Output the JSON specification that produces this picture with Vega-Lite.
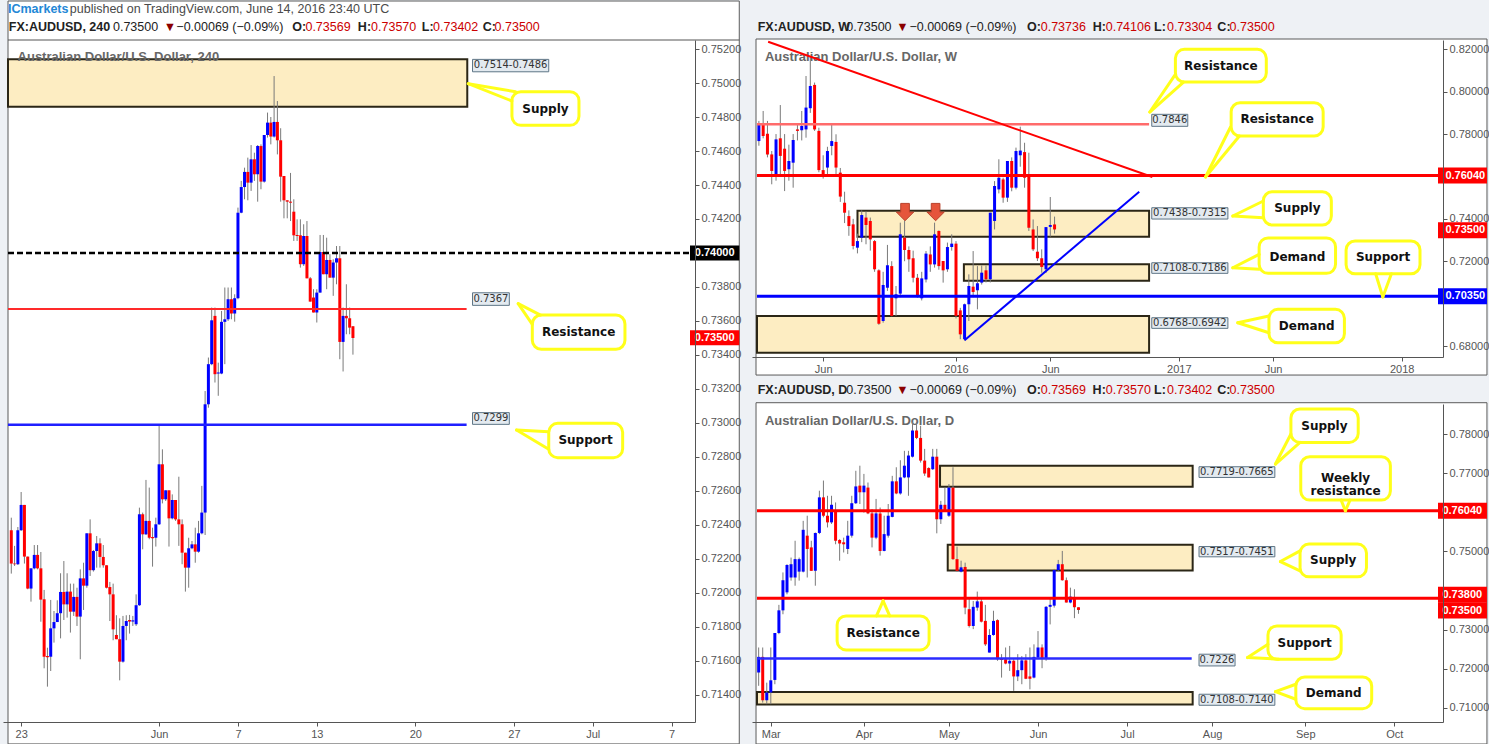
{
"$schema": "https://vega.github.io/schema/vega-lite/v6.json",
"background": "#eef1f5",
"padding": {"left": 3, "top": 0, "right": 0, "bottom": 0},
"spacing": 57,
"bounds": "flush",
"config": {
  "font": "Liberation Sans",
  "view": {"stroke": null},
  "axis": {"grid": false, "labelFont": "Liberation Sans", "labelFontSize": 11, "labelColor": "#555555", "domainColor": "#555555", "tickColor": "#555555", "tickSize": 4, "labelPadding": 2, "labelFlush": false, "labelOverlap": false, "labelBound": false}
},
"datasets": {
  "lblL": [
    {"x1":138.4,"x2":161.6,"y1":0.75066,"y2":0.75139,"tx":150.0,"ty":0.75103,"t":"0.7514-0.7486"},
    {"x1":138.4,"x2":149.6,"y1":0.73692,"y2":0.73766,"tx":144.0,"ty":0.73729,"t":"0.7367"},
    {"x1":138.4,"x2":149.6,"y1":0.72992,"y2":0.73061,"tx":144.0,"ty":0.73027,"t":"0.7299"}
  ],
  "coL": [
    {"x1":150.4,"x2":170.8,"y1":0.74751,"y2":0.74949,"tx":160.6,"ty":0.7485,"t":"Supply"},
    {"x1":156.6,"x2":184.8,"y1":0.73434,"y2":0.73635,"tx":170.7,"ty":0.73535,"t":"Resistance"},
    {"x1":161.6,"x2":184.1,"y1":0.72796,"y2":0.72998,"tx":172.8,"ty":0.72897,"t":"Support"}
  ],
  "lblW": [
    {"x1":45.68,"x2":54.09,"y1":0.78366,"y2":0.78932,"tx":49.89,"ty":0.78649,"t":"0.7846"},
    {"x1":45.68,"x2":63.45,"y1":0.73991,"y2":0.74525,"tx":54.57,"ty":0.74258,"t":"0.7438-0.7315"},
    {"x1":45.68,"x2":63.45,"y1":0.71429,"y2":0.71929,"tx":54.57,"ty":0.71679,"t":"0.7108-0.7186"},
    {"x1":45.68,"x2":63.45,"y1":0.68833,"y2":0.69334,"tx":54.57,"ty":0.69084,"t":"0.6768-0.6942"}
  ],
  "coW": [
    {"x1":51.2,"x2":72.41,"y1":0.80457,"y2":0.82,"tx":61.8,"ty":0.81226,"t":"Resistance"},
    {"x1":64.21,"x2":85.68,"y1":0.77908,"y2":0.7948,"tx":74.94,"ty":0.78697,"t":"Resistance"},
    {"x1":71.72,"x2":87.59,"y1":0.73708,"y2":0.7528,"tx":79.66,"ty":0.74496,"t":"Supply"},
    {"x1":70.74,"x2":88.57,"y1":0.71429,"y2":0.731,"tx":79.66,"ty":0.72212,"t":"Demand"},
    {"x1":91.03,"x2":108.28,"y1":0.7141,"y2":0.72953,"tx":99.66,"ty":0.72184,"t":"Support"},
    {"x1":73.03,"x2":90.64,"y1":0.68154,"y2":0.6973,"tx":81.84,"ty":0.68942,"t":"Demand"}
  ],
  "lblD": [
    {"x1":105.77,"x2":124.5,"y1":0.76889,"y2":0.77163,"tx":115.1,"ty":0.77026,"t":"0.7719-0.7665"},
    {"x1":105.77,"x2":124.5,"y1":0.74859,"y2":0.75122,"tx":115.1,"ty":0.7499,"t":"0.7517-0.7451"},
    {"x1":105.77,"x2":114.67,"y1":0.72068,"y2":0.72368,"tx":110.2,"ty":0.72218,"t":"0.7226"},
    {"x1":105.77,"x2":124.5,"y1":0.71062,"y2":0.71344,"tx":115.1,"ty":0.71203,"t":"0.7108-0.7140"}
  ],
  "coD": [
    {"x1":128.47,"x2":145.09,"y1":0.77785,"y2":0.7864,"tx":136.74,"ty":0.78212,"t":"Supply"},
    {"x1":130.9,"x2":153.04,"y1":0.7631,"y2":0.77419,"tx":141.97,"ty":0.76863,"t":"Weekly\nresistance"},
    {"x1":130.73,"x2":147.13,"y1":0.74347,"y2":0.75184,"tx":138.93,"ty":0.74765,"t":"Supply"},
    {"x1":16.38,"x2":39.1,"y1":0.72478,"y2":0.73348,"tx":27.74,"ty":0.72913,"t":"Resistance"},
    {"x1":122.8,"x2":140.88,"y1":0.7224,"y2":0.73092,"tx":131.87,"ty":0.72665,"t":"Support"},
    {"x1":129.68,"x2":148.42,"y1":0.70975,"y2":0.71786,"tx":139.05,"ty":0.71382,"t":"Demand"}
  ],
  "h4": [
{"i":-2,"o":0.72369,"h":0.72443,"l":0.72114,"c":0.72173},
{"i":-1,"o":0.72173,"h":0.72277,"l":0.72159,"c":0.72169},
{"i":0,"o":0.72169,"h":0.72388,"l":0.72165,"c":0.72369},
{"i":1,"o":0.72369,"h":0.72594,"l":0.72365,"c":0.72518},
{"i":2,"o":0.72518,"h":0.72518,"l":0.72173,"c":0.72214},
{"i":3,"o":0.72214,"h":0.72214,"l":0.72022,"c":0.72026},
{"i":4,"o":0.72026,"h":0.72145,"l":0.71949,"c":0.72145},
{"i":5,"o":0.72145,"h":0.72282,"l":0.72139,"c":0.72224},
{"i":6,"o":0.72224,"h":0.72282,"l":0.72139,"c":0.72145},
{"i":7,"o":0.72145,"h":0.72241,"l":0.71831,"c":0.71961},
{"i":8,"o":0.71963,"h":0.72018,"l":0.71557,"c":0.71625},
{"i":9,"o":0.71629,"h":0.71678,"l":0.71449,"c":0.71622},
{"i":10,"o":0.71625,"h":0.71959,"l":0.71541,"c":0.71792},
{"i":11,"o":0.71792,"h":0.71894,"l":0.71708,"c":0.71829},
{"i":12,"o":0.71829,"h":0.71957,"l":0.71829,"c":0.71881},
{"i":13,"o":0.71881,"h":0.72116,"l":0.71733,"c":0.72006},
{"i":14,"o":0.72006,"h":0.72188,"l":0.71841,"c":0.71933},
{"i":15,"o":0.71933,"h":0.72116,"l":0.71855,"c":0.72008},
{"i":16,"o":0.72008,"h":0.72055,"l":0.71767,"c":0.7189},
{"i":17,"o":0.7189,"h":0.72055,"l":0.71865,"c":0.71977},
{"i":18,"o":0.71977,"h":0.72031,"l":0.71806,"c":0.71861},
{"i":19,"o":0.71861,"h":0.72139,"l":0.7161,"c":0.72086},
{"i":20,"o":0.72086,"h":0.72178,"l":0.719,"c":0.72043},
{"i":21,"o":0.72043,"h":0.72351,"l":0.72031,"c":0.72351},
{"i":22,"o":0.72351,"h":0.72433,"l":0.721,"c":0.72134},
{"i":23,"o":0.72134,"h":0.72253,"l":0.72126,"c":0.72247},
{"i":24,"o":0.72247,"h":0.72335,"l":0.72149,"c":0.72292},
{"i":25,"o":0.72292,"h":0.72322,"l":0.72149,"c":0.72212},
{"i":26,"o":0.72212,"h":0.72282,"l":0.72149,"c":0.72163},
{"i":27,"o":0.72163,"h":0.72163,"l":0.72027,"c":0.72031},
{"i":28,"o":0.72035,"h":0.72065,"l":0.71835,"c":0.71992},
{"i":29,"o":0.71992,"h":0.72055,"l":0.71722,"c":0.71786},
{"i":30,"o":0.71753,"h":0.71869,"l":0.71728,"c":0.71728},
{"i":31,"o":0.71728,"h":0.71851,"l":0.71486,"c":0.71596},
{"i":32,"o":0.71596,"h":0.71865,"l":0.7159,"c":0.71806},
{"i":33,"o":0.71806,"h":0.71869,"l":0.71722,"c":0.71835},
{"i":34,"o":0.71841,"h":0.71871,"l":0.71761,"c":0.71832},
{"i":35,"o":0.71832,"h":0.71865,"l":0.71806,"c":0.71839},
{"i":36,"o":0.71816,"h":0.71992,"l":0.71806,"c":0.71928},
{"i":37,"o":0.71928,"h":0.72502,"l":0.71924,"c":0.72463},
{"i":38,"o":0.72463,"h":0.72473,"l":0.72257,"c":0.72345},
{"i":39,"o":0.72345,"h":0.72665,"l":0.72341,"c":0.72424},
{"i":40,"o":0.72424,"h":0.7262,"l":0.72316,"c":0.72325},
{"i":41,"o":0.72329,"h":0.72384,"l":0.72155,"c":0.72322},
{"i":42,"o":0.72325,"h":0.72443,"l":0.72273,"c":0.72404},
{"i":43,"o":0.72404,"h":0.72992,"l":0.724,"c":0.72757},
{"i":44,"o":0.72757,"h":0.72845,"l":0.72527,"c":0.72551},
{"i":45,"o":0.72551,"h":0.72604,"l":0.72541,"c":0.72604},
{"i":46,"o":0.72604,"h":0.72604,"l":0.72273,"c":0.72439},
{"i":47,"o":0.72439,"h":0.7258,"l":0.72433,"c":0.72547},
{"i":48,"o":0.72547,"h":0.72547,"l":0.72424,"c":0.72433},
{"i":49,"o":0.72433,"h":0.72684,"l":0.72277,"c":0.72404},
{"i":50,"o":0.72404,"h":0.72433,"l":0.72169,"c":0.72237},
{"i":51,"o":0.72237,"h":0.72237,"l":0.72008,"c":0.72149},
{"i":52,"o":0.72149,"h":0.72325,"l":0.72031,"c":0.72263},
{"i":53,"o":0.72263,"h":0.72306,"l":0.72257,"c":0.72286},
{"i":54,"o":0.72286,"h":0.72384,"l":0.72178,"c":0.72243},
{"i":55,"o":0.72243,"h":0.72424,"l":0.72237,"c":0.72351},
{"i":56,"o":0.72351,"h":0.7263,"l":0.72345,"c":0.72473},
{"i":57,"o":0.72473,"h":0.73188,"l":0.72341,"c":0.7311},
{"i":58,"o":0.7311,"h":0.73385,"l":0.7309,"c":0.73346},
{"i":59,"o":0.73346,"h":0.73679,"l":0.7334,"c":0.73604},
{"i":60,"o":0.7363,"h":0.73679,"l":0.73238,"c":0.73287},
{"i":61,"o":0.73291,"h":0.73355,"l":0.7316,"c":0.73297},
{"i":62,"o":0.73291,"h":0.73659,"l":0.73287,"c":0.73595},
{"i":63,"o":0.73595,"h":0.73797,"l":0.73346,"c":0.7361},
{"i":64,"o":0.7361,"h":0.73797,"l":0.736,"c":0.73728},
{"i":65,"o":0.73728,"h":0.73797,"l":0.7361,"c":0.73644},
{"i":66,"o":0.73644,"h":0.73757,"l":0.73596,"c":0.73734},
{"i":67,"o":0.73734,"h":0.74267,"l":0.73728,"c":0.74237},
{"i":68,"o":0.74237,"h":0.74424,"l":0.74234,"c":0.74388},
{"i":69,"o":0.74388,"h":0.74502,"l":0.74316,"c":0.74477},
{"i":70,"o":0.74477,"h":0.74561,"l":0.7431,"c":0.74414},
{"i":71,"o":0.74414,"h":0.74635,"l":0.74365,"c":0.74551},
{"i":72,"o":0.74551,"h":0.7459,"l":0.74424,"c":0.74463},
{"i":73,"o":0.74463,"h":0.74635,"l":0.74302,"c":0.74629},
{"i":74,"o":0.74629,"h":0.74639,"l":0.74375,"c":0.7442},
{"i":75,"o":0.7442,"h":0.74694,"l":0.74414,"c":0.74694},
{"i":76,"o":0.74694,"h":0.74826,"l":0.74679,"c":0.74767},
{"i":77,"o":0.74767,"h":0.748,"l":0.74639,"c":0.74685},
{"i":78,"o":0.74685,"h":0.75041,"l":0.74679,"c":0.74771},
{"i":79,"o":0.74771,"h":0.74894,"l":0.7458,"c":0.74663},
{"i":80,"o":0.74663,"h":0.74734,"l":0.74302,"c":0.74449},
{"i":81,"o":0.74453,"h":0.74453,"l":0.74204,"c":0.7431},
{"i":82,"o":0.7431,"h":0.7431,"l":0.74204,"c":0.74302},
{"i":83,"o":0.74302,"h":0.74471,"l":0.74188,"c":0.74296},
{"i":84,"o":0.74243,"h":0.74316,"l":0.74071,"c":0.74104},
{"i":85,"o":0.74106,"h":0.74198,"l":0.74071,"c":0.741},
{"i":86,"o":0.74104,"h":0.74198,"l":0.73914,"c":0.73934},
{"i":87,"o":0.73934,"h":0.74169,"l":0.73924,"c":0.741},
{"i":88,"o":0.741,"h":0.74188,"l":0.73851,"c":0.73851},
{"i":89,"o":0.73851,"h":0.73859,"l":0.73714,"c":0.73714},
{"i":90,"o":0.73738,"h":0.73787,"l":0.7365,"c":0.7365},
{"i":91,"o":0.7365,"h":0.73787,"l":0.73591,"c":0.73767},
{"i":92,"o":0.73767,"h":0.74106,"l":0.73767,"c":0.74006},
{"i":93,"o":0.74006,"h":0.74106,"l":0.73875,"c":0.73875},
{"i":94,"o":0.73875,"h":0.7409,"l":0.73787,"c":0.73959},
{"i":95,"o":0.73959,"h":0.73993,"l":0.73855,"c":0.73855},
{"i":96,"o":0.73855,"h":0.73963,"l":0.73748,"c":0.73944},
{"i":97,"o":0.73944,"h":0.74041,"l":0.73816,"c":0.73969},
{"i":98,"o":0.73969,"h":0.74041,"l":0.73375,"c":0.73477},
{"i":99,"o":0.73477,"h":0.73679,"l":0.73303,"c":0.7363},
{"i":100,"o":0.7363,"h":0.73816,"l":0.73522,"c":0.73616},
{"i":101,"o":0.73616,"h":0.73679,"l":0.73522,"c":0.73561},
{"i":102,"o":0.73569,"h":0.7357,"l":0.73402,"c":0.735}
  ],
  "wk": [
{"w":-46,"o":0.7767,"h":0.7862,"l":0.7745,"c":0.7843},
{"w":-45,"o":0.7843,"h":0.7909,"l":0.778,"c":0.7791},
{"w":-44,"o":0.7802,"h":0.7862,"l":0.769,"c":0.7704},
{"w":-43,"o":0.7704,"h":0.772,"l":0.7563,"c":0.7626},
{"w":-42,"o":0.761,"h":0.78,"l":0.758,"c":0.7775},
{"w":-41,"o":0.778,"h":0.7937,"l":0.761,"c":0.7697},
{"w":-40,"o":0.7731,"h":0.78,"l":0.7531,"c":0.7626},
{"w":-39,"o":0.7634,"h":0.775,"l":0.758,"c":0.7673},
{"w":-38,"o":0.7665,"h":0.78,"l":0.7547,"c":0.7772},
{"w":-37,"o":0.7822,"h":0.785,"l":0.777,"c":0.7815},
{"w":-36,"o":0.7818,"h":0.7909,"l":0.777,"c":0.7838},
{"w":-35,"o":0.7822,"h":0.8074,"l":0.7783,"c":0.7925},
{"w":-34,"o":0.7922,"h":0.8163,"l":0.79,"c":0.8027},
{"w":-33,"o":0.8032,"h":0.8043,"l":0.7815,"c":0.7822},
{"w":-32,"o":0.7815,"h":0.783,"l":0.762,"c":0.763},
{"w":-31,"o":0.763,"h":0.77,"l":0.759,"c":0.761},
{"w":-30,"o":0.7642,"h":0.774,"l":0.76,"c":0.772},
{"w":-29,"o":0.7744,"h":0.7848,"l":0.77,"c":0.7767},
{"w":-28,"o":0.7763,"h":0.7799,"l":0.761,"c":0.7642},
{"w":-27,"o":0.7618,"h":0.764,"l":0.748,"c":0.7505},
{"w":-26,"o":0.7476,"h":0.7528,"l":0.738,"c":0.7429},
{"w":-25,"o":0.7413,"h":0.744,"l":0.732,"c":0.7366},
{"w":-24,"o":0.7374,"h":0.74,"l":0.7256,"c":0.7272},
{"w":-23,"o":0.7264,"h":0.733,"l":0.7237,"c":0.7295},
{"w":-22,"o":0.7311,"h":0.744,"l":0.729,"c":0.7418},
{"w":-21,"o":0.7406,"h":0.7434,"l":0.728,"c":0.7371},
{"w":-20,"o":0.739,"h":0.7406,"l":0.725,"c":0.7303},
{"w":-19,"o":0.7295,"h":0.73,"l":0.715,"c":0.7162},
{"w":-18,"o":0.7157,"h":0.7162,"l":0.69,"c":0.6905},
{"w":-17,"o":0.6918,"h":0.715,"l":0.691,"c":0.7088},
{"w":-16,"o":0.7075,"h":0.7277,"l":0.706,"c":0.7181},
{"w":-15,"o":0.7177,"h":0.72,"l":0.694,"c":0.6942},
{"w":-14,"o":0.7025,"h":0.7083,"l":0.6942,"c":0.7044},
{"w":-13,"o":0.7047,"h":0.7382,"l":0.703,"c":0.7327},
{"w":-12,"o":0.7311,"h":0.7393,"l":0.72,"c":0.7253},
{"w":-11,"o":0.7253,"h":0.727,"l":0.715,"c":0.7209},
{"w":-10,"o":0.7214,"h":0.725,"l":0.71,"c":0.7122},
{"w":-9,"o":0.7122,"h":0.714,"l":0.7028,"c":0.7031},
{"w":-8,"o":0.7025,"h":0.715,"l":0.7015,"c":0.7119},
{"w":-7,"o":0.7114,"h":0.7248,"l":0.71,"c":0.7236},
{"w":-6,"o":0.7232,"h":0.727,"l":0.715,"c":0.7185},
{"w":-5,"o":0.7185,"h":0.7382,"l":0.717,"c":0.7327},
{"w":-4,"o":0.7343,"h":0.7345,"l":0.716,"c":0.7177},
{"w":-3,"o":0.7201,"h":0.7201,"l":0.7099,"c":0.7157},
{"w":-2,"o":0.7162,"h":0.7288,"l":0.715,"c":0.7267},
{"w":-1,"o":0.7267,"h":0.7327,"l":0.725,"c":0.7283},
{"w":0,"o":0.7283,"h":0.7295,"l":0.693,"c":0.6942},
{"w":1,"o":0.6968,"h":0.698,"l":0.6832,"c":0.6855},
{"w":2,"o":0.6832,"h":0.7,"l":0.6826,"c":0.6997},
{"w":3,"o":0.6997,"h":0.7138,"l":0.6918,"c":0.7083},
{"w":4,"o":0.708,"h":0.7248,"l":0.703,"c":0.7055},
{"w":5,"o":0.7063,"h":0.7177,"l":0.6973,"c":0.7096},
{"w":6,"o":0.7099,"h":0.718,"l":0.709,"c":0.7146},
{"w":7,"o":0.7157,"h":0.718,"l":0.71,"c":0.7115},
{"w":8,"o":0.7115,"h":0.7429,"l":0.71,"c":0.7429},
{"w":9,"o":0.739,"h":0.7578,"l":0.735,"c":0.7555},
{"w":10,"o":0.7539,"h":0.7681,"l":0.752,"c":0.7594},
{"w":11,"o":0.7586,"h":0.7594,"l":0.7476,"c":0.75},
{"w":12,"o":0.75,"h":0.7673,"l":0.748,"c":0.7673},
{"w":13,"o":0.7673,"h":0.769,"l":0.753,"c":0.7547},
{"w":14,"o":0.7547,"h":0.7736,"l":0.7539,"c":0.772},
{"w":15,"o":0.77,"h":0.7835,"l":0.7646,"c":0.7722},
{"w":16,"o":0.7715,"h":0.7759,"l":0.7547,"c":0.7594},
{"w":17,"o":0.76,"h":0.7712,"l":0.7343,"c":0.7358},
{"w":18,"o":0.735,"h":0.7397,"l":0.7248,"c":0.7256},
{"w":19,"o":0.7245,"h":0.7366,"l":0.7201,"c":0.7214},
{"w":20,"o":0.7214,"h":0.7256,"l":0.7146,"c":0.7173},
{"w":21,"o":0.7162,"h":0.7361,"l":0.7145,"c":0.7361},
{"w":22,"o":0.7362,"h":0.7503,"l":0.7316,"c":0.7371},
{"w":23,"o":0.73736,"h":0.74106,"l":0.73304,"c":0.735}
  ],
  "dy": [
{"d":-3,"o":0.719,"h":0.7254,"l":0.7156,"c":0.723},
{"d":-2,"o":0.723,"h":0.7254,"l":0.7113,"c":0.7119},
{"d":-1,"o":0.7119,"h":0.7164,"l":0.7109,"c":0.7139},
{"d":0,"o":0.7139,"h":0.7254,"l":0.7109,"c":0.717},
{"d":1,"o":0.7171,"h":0.7291,"l":0.716,"c":0.7291},
{"d":2,"o":0.7291,"h":0.7363,"l":0.7288,"c":0.7349},
{"d":3,"o":0.7349,"h":0.7446,"l":0.7339,"c":0.7426},
{"d":4,"o":0.7395,"h":0.7467,"l":0.739,"c":0.7465},
{"d":5,"o":0.7433,"h":0.7484,"l":0.7425,"c":0.7467},
{"d":6,"o":0.7433,"h":0.7527,"l":0.7412,"c":0.748},
{"d":7,"o":0.7448,"h":0.7484,"l":0.7425,"c":0.748},
{"d":8,"o":0.7448,"h":0.7578,"l":0.7446,"c":0.7555},
{"d":9,"o":0.754,"h":0.7591,"l":0.7433,"c":0.7506},
{"d":10,"o":0.751,"h":0.7527,"l":0.745,"c":0.745},
{"d":11,"o":0.745,"h":0.7548,"l":0.7412,"c":0.7547},
{"d":12,"o":0.7547,"h":0.7655,"l":0.7544,"c":0.7638},
{"d":13,"o":0.7638,"h":0.7681,"l":0.7587,"c":0.7591},
{"d":14,"o":0.7591,"h":0.7642,"l":0.7561,"c":0.7574},
{"d":15,"o":0.7574,"h":0.7642,"l":0.757,"c":0.7619},
{"d":16,"o":0.7604,"h":0.7625,"l":0.7518,"c":0.7527},
{"d":17,"o":0.7529,"h":0.7531,"l":0.7476,"c":0.752},
{"d":18,"o":0.7523,"h":0.7535,"l":0.7497,"c":0.7518},
{"d":19,"o":0.7506,"h":0.7578,"l":0.7493,"c":0.754},
{"d":20,"o":0.754,"h":0.7642,"l":0.7535,"c":0.7623},
{"d":21,"o":0.7623,"h":0.7706,"l":0.7621,"c":0.7666},
{"d":22,"o":0.7668,"h":0.7719,"l":0.7621,"c":0.7651},
{"d":23,"o":0.7651,"h":0.7698,"l":0.7599,"c":0.7668},
{"d":24,"o":0.7663,"h":0.7676,"l":0.7595,"c":0.7597},
{"d":25,"o":0.7597,"h":0.7608,"l":0.751,"c":0.7535},
{"d":26,"o":0.7535,"h":0.7634,"l":0.7531,"c":0.7597},
{"d":27,"o":0.7597,"h":0.7612,"l":0.7489,"c":0.7501},
{"d":28,"o":0.7501,"h":0.7591,"l":0.75,"c":0.7544},
{"d":29,"o":0.754,"h":0.7621,"l":0.7535,"c":0.7591},
{"d":30,"o":0.7588,"h":0.7693,"l":0.7587,"c":0.7679},
{"d":31,"o":0.7679,"h":0.7715,"l":0.7646,"c":0.7648},
{"d":32,"o":0.7648,"h":0.7733,"l":0.7645,"c":0.7689},
{"d":33,"o":0.7689,"h":0.7757,"l":0.7687,"c":0.7719},
{"d":34,"o":0.7689,"h":0.7757,"l":0.7642,"c":0.7745},
{"d":35,"o":0.7742,"h":0.783,"l":0.774,"c":0.7809},
{"d":36,"o":0.7809,"h":0.783,"l":0.7787,"c":0.779},
{"d":37,"o":0.779,"h":0.7821,"l":0.7727,"c":0.7732},
{"d":38,"o":0.7732,"h":0.7762,"l":0.7693,"c":0.7699},
{"d":39,"o":0.7713,"h":0.7715,"l":0.7689,"c":0.7689},
{"d":40,"o":0.771,"h":0.7762,"l":0.7708,"c":0.7742},
{"d":41,"o":0.7742,"h":0.7762,"l":0.7546,"c":0.7582},
{"d":42,"o":0.7582,"h":0.7629,"l":0.757,"c":0.7619},
{"d":43,"o":0.7619,"h":0.7663,"l":0.7604,"c":0.7604},
{"d":44,"o":0.7591,"h":0.7672,"l":0.7588,"c":0.7663},
{"d":45,"o":0.7663,"h":0.7715,"l":0.7478,"c":0.748},
{"d":46,"o":0.748,"h":0.7512,"l":0.7448,"c":0.745},
{"d":47,"o":0.7448,"h":0.7476,"l":0.7446,"c":0.7459},
{"d":48,"o":0.746,"h":0.7471,"l":0.7339,"c":0.7356},
{"d":49,"o":0.7352,"h":0.7382,"l":0.7305,"c":0.7309},
{"d":50,"o":0.7309,"h":0.7373,"l":0.7301,"c":0.7358},
{"d":51,"o":0.7356,"h":0.7397,"l":0.7348,"c":0.7372},
{"d":52,"o":0.7372,"h":0.7378,"l":0.7318,"c":0.732},
{"d":53,"o":0.7322,"h":0.7363,"l":0.7258,"c":0.7262},
{"d":54,"o":0.7241,"h":0.7301,"l":0.7241,"c":0.7286},
{"d":55,"o":0.7286,"h":0.7348,"l":0.7284,"c":0.7322},
{"d":56,"o":0.7324,"h":0.7326,"l":0.722,"c":0.7224},
{"d":57,"o":0.7226,"h":0.7237,"l":0.7177,"c":0.7222},
{"d":58,"o":0.7224,"h":0.7254,"l":0.7211,"c":0.7213},
{"d":59,"o":0.7213,"h":0.7258,"l":0.7194,"c":0.722},
{"d":60,"o":0.722,"h":0.7224,"l":0.7143,"c":0.718},
{"d":61,"o":0.718,"h":0.7237,"l":0.7168,"c":0.7196},
{"d":62,"o":0.7196,"h":0.7232,"l":0.716,"c":0.7221},
{"d":63,"o":0.7221,"h":0.7237,"l":0.7173,"c":0.7174},
{"d":64,"o":0.718,"h":0.7254,"l":0.7147,"c":0.7174},
{"d":65,"o":0.7177,"h":0.7262,"l":0.7175,"c":0.723},
{"d":66,"o":0.7228,"h":0.7296,"l":0.7224,"c":0.7254},
{"d":67,"o":0.7254,"h":0.7262,"l":0.7201,"c":0.7227},
{"d":68,"o":0.7227,"h":0.736,"l":0.722,"c":0.7358},
{"d":69,"o":0.7358,"h":0.738,"l":0.7313,"c":0.7363},
{"d":70,"o":0.7361,"h":0.7455,"l":0.7356,"c":0.7452},
{"d":71,"o":0.7452,"h":0.7478,"l":0.745,"c":0.7467},
{"d":72,"o":0.7467,"h":0.7501,"l":0.7425,"c":0.7426},
{"d":73,"o":0.7426,"h":0.7433,"l":0.7369,"c":0.7369},
{"d":74,"o":0.7369,"h":0.7407,"l":0.7367,"c":0.7384},
{"d":75,"o":0.738,"h":0.7403,"l":0.7329,"c":0.7357},
{"d":76,"o":0.73569,"h":0.7357,"l":0.73402,"c":0.735}
  ]
},
"hconcat": [
{
  "width": 692, "height": 682,
  "layer": [
    {"data": {"name": "h4"},
     "mark": {"type": "bar", "size": 3, "opacity": 0},
     "encoding": {
       "x": {"field": "i", "type": "quantitative", "scale": {"domain": [-3.0, 204.6], "nice": false, "zero": false}, "axis": {"zindex": 1, "labelOverlap": false, "tickCount": 40, "values": [1, 43, 67, 91, 121, 151, 175, 199], "labelExpr": "['23','Jun','7','13','20','27','Jul','7'][indexof([1,43,67,91,121,151,175,199], datum.value)]", "title": null}},
       "y": {"field": "o", "type": "quantitative", "scale": {"domain": [0.71241, 0.75253], "nice": false, "zero": false}, "axis": {"zindex": 1, "labelOverlap": false, "tickCount": 40, "orient": "right", "values": [0.714, 0.716, 0.718, 0.72, 0.722, 0.724, 0.726, 0.728, 0.73, 0.732, 0.734, 0.736, 0.738, 0.742, 0.744, 0.746, 0.748, 0.75, 0.752], "format": ".5f", "title": null}},
       "y2": {"field": "c"}}},
    {"data": {"values": [{"x1": -3.0, "x2": 219.6, "y1": 0.71112, "y2": 0.754824}]},
     "mark": {"type": "rect", "fill": "#ffffff", "stroke": "#5b5b5b", "strokeWidth": 1},
     "encoding": {"x": {"field": "x1", "type": "quantitative"}, "x2": {"field": "x2"}, "y": {"field": "y1", "type": "quantitative"}, "y2": {"field": "y2"}}},
    {"data": {"values": [{"x1": -3.0, "x2": 136.8, "y1": 0.7486, "y2": 0.7514}]},
     "mark": {"type": "rect", "fill": "#fdedc2", "stroke": "#2b2616", "strokeWidth": 2},
     "encoding": {"x": {"field": "x1", "type": "quantitative"}, "x2": {"field": "x2"}, "y": {"field": "y1", "type": "quantitative"}, "y2": {"field": "y2"}}},
    {"data": {"values": [{"x": -0.09, "p": 0.75153, "t": "Australian Dollar/U.S. Dollar, 240"}]},
     "mark": {"type": "text", "align": "left", "baseline": "middle", "fontWeight": "bold", "fontSize": 13, "color": "#676767"},
     "encoding": {"x": {"field": "x", "type": "quantitative"}, "y": {"field": "p", "type": "quantitative"}, "text": {"field": "t"}}},
    {"data": {"name": "h4"},
     "mark": {"type": "rule", "color": "#7a7a7a", "strokeWidth": 1},
     "encoding": {"x": {"field": "i", "type": "quantitative"}, "y": {"field": "l", "type": "quantitative"}, "y2": {"field": "h"}}},
    {"data": {"name": "h4"},
     "mark": {"type": "bar", "size": 3},
     "encoding": {"x": {"field": "i", "type": "quantitative"}, "y": {"field": "o", "type": "quantitative"}, "y2": {"field": "c"},
       "color": {"condition": {"test": "datum.c >= datum.o", "value": "#0000ff"}, "value": "#ff0000"}}},
    {"data": {"values": [{"x1": -3.0, "x2": 219.6, "p": 0.75253}]},
     "mark": {"type": "rule", "color": "#555555", "strokeWidth": 1},
     "encoding": {"x": {"field": "x1", "type": "quantitative"}, "x2": {"field": "x2"}, "y": {"field": "p", "type": "quantitative"}}},
    {"data": {"values": [{"x1": -3.0, "x2": 204.6, "p": 0.74}]},
     "mark": {"type": "rule", "color": "#000000", "strokeWidth": 2.5, "strokeDash": [6, 3]},
     "encoding": {"x": {"field": "x1", "type": "quantitative"}, "x2": {"field": "x2"}, "y": {"field": "p", "type": "quantitative"}}},
    {"data": {"values": [{"x1": -3.0, "x2": 136.6, "p": 0.7367}]},
     "mark": {"type": "rule", "color": "#ff2a2a", "strokeWidth": 2},
     "encoding": {"x": {"field": "x1", "type": "quantitative"}, "x2": {"field": "x2"}, "y": {"field": "p", "type": "quantitative"}}},
    {"data": {"values": [{"x1": -3.0, "x2": 136.6, "p": 0.7299}]},
     "mark": {"type": "rule", "color": "#1f1fff", "strokeWidth": 2.5},
     "encoding": {"x": {"field": "x1", "type": "quantitative"}, "x2": {"field": "x2"}, "y": {"field": "p", "type": "quantitative"}}},
    {"data": {"name": "lblL"},
     "mark": {"type": "rect", "fill": "#e3eaf0", "stroke": "#5e7586", "strokeWidth": 1},
     "encoding": {"x": {"field": "x1", "type": "quantitative"}, "x2": {"field": "x2"}, "y": {"field": "y1", "type": "quantitative"}, "y2": {"field": "y2"}}},
    {"data": {"name": "lblL"},
     "mark": {"type": "text", "font": "DejaVu Sans", "fontSize": 10, "color": "#333333", "align": "center", "baseline": "middle"},
     "encoding": {"x": {"field": "tx", "type": "quantitative"}, "y": {"field": "ty", "type": "quantitative"}, "text": {"field": "t"}}},
    {"data": {"name": "coL"},
     "mark": {"type": "rect", "fill": "#ffffff", "stroke": "#ffff1a", "strokeWidth": 3, "cornerRadius": 9},
     "encoding": {"x": {"field": "x1", "type": "quantitative"}, "x2": {"field": "x2"}, "y": {"field": "y1", "type": "quantitative"}, "y2": {"field": "y2"}}},
    {"data": {"values": [
       {"ax": 151.5, "ay": 0.74949, "bx": 137.1, "by": 0.74996},
       {"ax": 150.4, "ay": 0.74894, "bx": 137.1, "by": 0.74996},
       {"ax": 159.1, "ay": 0.73635, "bx": 152.3, "by": 0.73702},
       {"ax": 156.6, "ay": 0.7358, "bx": 152.3, "by": 0.73702},
       {"ax": 161.6, "ay": 0.72949, "bx": 151.8, "by": 0.72959},
       {"ax": 161.6, "ay": 0.72845, "bx": 151.8, "by": 0.72959}]},
     "mark": {"type": "rule", "color": "#ffff1a", "strokeWidth": 3, "strokeCap": "round"},
     "encoding": {"x": {"field": "ax", "type": "quantitative"}, "x2": {"field": "bx"}, "y": {"field": "ay", "type": "quantitative"}, "y2": {"field": "by"}}},
    {"data": {"name": "coL"},
     "mark": {"type": "text", "font": "DejaVu Sans", "fontWeight": "bold", "fontSize": 12, "color": "#111111", "align": "center", "baseline": "middle"},
     "encoding": {"x": {"field": "tx", "type": "quantitative"}, "y": {"field": "ty", "type": "quantitative"}, "text": {"field": "t"}}},
    {"data": {"values": [{"y1": 0.73956, "y2": 0.74044, "k": "round"}, {"y1": 0.73457, "y2": 0.73545, "k": "last"}]},
     "mark": {"type": "rect"},
     "encoding": {"x": {"datum": 204.6, "type": "quantitative"}, "x2": {"datum": 219.6}, "y": {"field": "y1", "type": "quantitative"}, "y2": {"field": "y2"}, "color": {"condition": {"test": "datum.k == 'round'", "value": "#000000"}, "value": "#ff0000"}}},
    {"data": {"values": [{"p": 0.74, "t": "0.74000"}, {"p": 0.73501, "t": "0.73500"}]},
     "mark": {"type": "text", "fontWeight": "bold", "fontSize": 11, "color": "#ffffff", "align": "center", "baseline": "middle"},
     "encoding": {"x": {"datum": 212.1, "type": "quantitative"}, "y": {"field": "p", "type": "quantitative"}, "text": {"field": "t"}}},
    {"data": {"values": [
       {"x": -3.0, "p": 0.75435, "t": "ICmarkets", "part": "brand"},
       {"x": -2.76, "p": 0.75329, "t": "FX:AUDUSD, 240", "part": "key"},
       {"x": 83.52, "p": 0.75329, "t": "O:", "part": "key"},
       {"x": 103.5, "p": 0.75329, "t": "H:", "part": "key"},
       {"x": 122.97, "p": 0.75329, "t": "L:", "part": "key"},
       {"x": 141.54, "p": 0.75329, "t": "C:", "part": "key"}]},
     "mark": {"type": "text", "align": "left", "baseline": "middle", "fontSize": 12.5, "fontWeight": "bold"},
     "encoding": {"x": {"field": "x", "type": "quantitative"}, "y": {"field": "p", "type": "quantitative"}, "text": {"field": "t"}, "color": {"condition": {"test": "datum.part == 'brand'", "value": "#2387d6"}, "value": "#222222"}}},
    {"data": {"values": [
       {"x": 15.81, "p": 0.75435, "t": "published on TradingView.com, June 14, 2016 23:40 UTC", "part": "pub"},
       {"x": 28.95, "p": 0.75329, "t": "0.73500", "part": "last"},
       {"x": 44.4, "p": 0.75329, "t": "▼", "part": "arrow"},
       {"x": 48.24, "p": 0.75329, "t": "−0.00069 (−0.09%)", "part": "last"},
       {"x": 87.54, "p": 0.75329, "t": "0.73569", "part": "ohlc"},
       {"x": 107.52, "p": 0.75329, "t": "0.73570", "part": "ohlc"},
       {"x": 126.39, "p": 0.75329, "t": "0.73402", "part": "ohlc"},
       {"x": 145.11, "p": 0.75329, "t": "0.73500", "part": "ohlc"}]},
     "mark": {"type": "text", "align": "left", "baseline": "middle", "fontSize": 12.5},
     "encoding": {"x": {"field": "x", "type": "quantitative"}, "y": {"field": "p", "type": "quantitative"}, "text": {"field": "t"}, "color": {"condition": [{"test": "datum.part == 'ohlc'", "value": "#cc0000"}, {"test": "datum.part == 'arrow'", "value": "#8b0000"}, {"test": "datum.part == 'pub'", "value": "#4a4a4a"}], "value": "#222222"}}}
  ]
},
{
  "vconcat": [
  {
    "width": 691, "height": 317,
    "layer": [
      {"data": {"name": "wk"},
       "mark": {"type": "bar", "size": 3, "opacity": 0},
       "encoding": {
         "x": {"field": "w", "type": "quantitative", "scale": {"domain": [-46.44, 112.48], "nice": false, "zero": false}, "axis": {"zindex": 1, "labelOverlap": false, "tickCount": 40, "values": [-31, 0, 22, 52, 74, 104], "labelExpr": "['Jun','2016','Jun','2017','Jun','2018'][indexof([-31,0,22,52,74,104], datum.value)]", "title": null}},
         "y": {"field": "o", "type": "quantitative", "scale": {"domain": [0.67481, 0.82439], "nice": false, "zero": false}, "axis": {"zindex": 1, "labelOverlap": false, "tickCount": 40, "orient": "right", "values": [0.68, 0.72, 0.74, 0.78, 0.8, 0.82], "format": ".5f", "title": null}},
         "y2": {"field": "c"}}},
      {"data": {"values": [{"x1": -46.67, "x2": 123.91, "y1": 0.6663, "y2": 0.82486}]},
       "mark": {"type": "rect", "fill": "#ffffff", "stroke": "#5b5b5b", "strokeWidth": 1},
       "encoding": {"x": {"field": "x1", "type": "quantitative"}, "x2": {"field": "x2"}, "y": {"field": "y1", "type": "quantitative"}, "y2": {"field": "y2"}}},
      {"data": {"values": [{"x1": -22.99, "x2": 45.06, "y1": 0.7315, "y2": 0.7438}, {"x1": 1.84, "x2": 45.06, "y1": 0.7108, "y2": 0.7186}, {"x1": -46.44, "x2": 45.06, "y1": 0.6768, "y2": 0.6942}]},
       "mark": {"type": "rect", "fill": "#fdedc2", "stroke": "#2b2616", "strokeWidth": 2},
       "encoding": {"x": {"field": "x1", "type": "quantitative"}, "x2": {"field": "x2"}, "y": {"field": "y1", "type": "quantitative"}, "y2": {"field": "y2"}}},
      {"data": {"values": [{"x": -44.6, "p": 0.81637, "t": "Australian Dollar/U.S. Dollar, W"}]},
       "mark": {"type": "text", "align": "left", "baseline": "middle", "fontWeight": "bold", "fontSize": 13, "color": "#676767"},
       "encoding": {"x": {"field": "x", "type": "quantitative"}, "y": {"field": "p", "type": "quantitative"}, "text": {"field": "t"}}},
      {"data": {"name": "wk"},
       "mark": {"type": "rule", "color": "#7a7a7a", "strokeWidth": 1},
       "encoding": {"x": {"field": "w", "type": "quantitative"}, "y": {"field": "l", "type": "quantitative"}, "y2": {"field": "h"}}},
      {"data": {"name": "wk"},
       "mark": {"type": "bar", "size": 3},
       "encoding": {"x": {"field": "w", "type": "quantitative"}, "y": {"field": "o", "type": "quantitative"}, "y2": {"field": "c"},
         "color": {"condition": {"test": "datum.c >= datum.o", "value": "#0000ff"}, "value": "#ff0000"}}},
      {"data": {"values": [{"x1": -46.44, "x2": 45.06, "p": 0.7846}]},
       "mark": {"type": "rule", "color": "#ff6b6b", "strokeWidth": 2.5},
       "encoding": {"x": {"field": "x1", "type": "quantitative"}, "x2": {"field": "x2"}, "y": {"field": "p", "type": "quantitative"}}},
      {"data": {"values": [{"x1": -46.44, "x2": 112.48, "p": 0.7604}]},
       "mark": {"type": "rule", "color": "#ff0000", "strokeWidth": 3},
       "encoding": {"x": {"field": "x1", "type": "quantitative"}, "x2": {"field": "x2"}, "y": {"field": "p", "type": "quantitative"}}},
      {"data": {"values": [{"x1": -46.44, "x2": 112.48, "p": 0.7035}]},
       "mark": {"type": "rule", "color": "#0000ff", "strokeWidth": 3},
       "encoding": {"x": {"field": "x1", "type": "quantitative"}, "x2": {"field": "x2"}, "y": {"field": "p", "type": "quantitative"}}},
      {"data": {"values": [{"ax": -43.84, "ay": 0.82359, "bx": 45.82, "by": 0.75974}]},
       "mark": {"type": "rule", "color": "#ff0000", "strokeWidth": 2, "clip": true},
       "encoding": {"x": {"field": "ax", "type": "quantitative"}, "x2": {"field": "bx"}, "y": {"field": "ay", "type": "quantitative"}, "y2": {"field": "by"}}},
      {"data": {"values": [{"ax": 2.0, "ay": 0.68267, "bx": 42.76, "by": 0.7528}]},
       "mark": {"type": "rule", "color": "#0000ff", "strokeWidth": 2},
       "encoding": {"x": {"field": "ax", "type": "quantitative"}, "x2": {"field": "bx"}, "y": {"field": "ay", "type": "quantitative"}, "y2": {"field": "by"}}},
      {"data": {"values": [{"w": -11.89, "p": 0.7432}, {"w": -4.76, "p": 0.7432}]},
       "mark": {"type": "point", "shape": "M-0.5,-1L0.5,-1L0.5,0L1,0L0,1L-1,0L-0.5,0Z", "filled": true, "size": 300, "color": "#e5553b", "stroke": "#b8402a", "strokeWidth": 1, "opacity": 1},
       "encoding": {"x": {"field": "w", "type": "quantitative"}, "y": {"field": "p", "type": "quantitative"}}},
      {"data": {"name": "lblW"},
       "mark": {"type": "rect", "fill": "#e3eaf0", "stroke": "#5e7586", "strokeWidth": 1},
       "encoding": {"x": {"field": "x1", "type": "quantitative"}, "x2": {"field": "x2"}, "y": {"field": "y1", "type": "quantitative"}, "y2": {"field": "y2"}}},
      {"data": {"name": "lblW"},
       "mark": {"type": "text", "font": "DejaVu Sans", "fontSize": 10, "color": "#333333", "align": "center", "baseline": "middle"},
       "encoding": {"x": {"field": "tx", "type": "quantitative"}, "y": {"field": "ty", "type": "quantitative"}, "text": {"field": "t"}}},
      {"data": {"name": "coW"},
       "mark": {"type": "rect", "fill": "#ffffff", "stroke": "#ffff1a", "strokeWidth": 3, "cornerRadius": 9},
       "encoding": {"x": {"field": "x1", "type": "quantitative"}, "x2": {"field": "x2"}, "y": {"field": "y1", "type": "quantitative"}, "y2": {"field": "y2"}}},
      {"data": {"values": [
         {"ax": 51.2, "ay": 0.8082, "bx": 45.22, "by": 0.79041},
         {"ax": 53.1, "ay": 0.80457, "bx": 45.22, "by": 0.79041},
         {"ax": 64.07, "ay": 0.78333, "bx": 58.23, "by": 0.75974},
         {"ax": 66.14, "ay": 0.77908, "bx": 58.23, "by": 0.75974},
         {"ax": 71.72, "ay": 0.74841, "bx": 64.6, "by": 0.74133},
         {"ax": 71.72, "ay": 0.74053, "bx": 64.6, "by": 0.74133},
         {"ax": 70.74, "ay": 0.72326, "bx": 64.6, "by": 0.71693},
         {"ax": 70.74, "ay": 0.71618, "bx": 64.6, "by": 0.71693},
         {"ax": 97.93, "ay": 0.7141, "bx": 99.61, "by": 0.7031},
         {"ax": 101.61, "ay": 0.7141, "bx": 99.61, "by": 0.7031},
         {"ax": 73.03, "ay": 0.69414, "bx": 65.75, "by": 0.69098},
         {"ax": 73.03, "ay": 0.68626, "bx": 65.75, "by": 0.69098}]},
       "mark": {"type": "rule", "color": "#ffff1a", "strokeWidth": 3, "strokeCap": "round"},
       "encoding": {"x": {"field": "ax", "type": "quantitative"}, "x2": {"field": "bx"}, "y": {"field": "ay", "type": "quantitative"}, "y2": {"field": "by"}}},
      {"data": {"name": "coW"},
       "mark": {"type": "text", "font": "DejaVu Sans", "fontWeight": "bold", "fontSize": 12, "color": "#111111", "align": "center", "baseline": "middle"},
       "encoding": {"x": {"field": "tx", "type": "quantitative"}, "y": {"field": "ty", "type": "quantitative"}, "text": {"field": "t"}}},
      {"data": {"values": [{"y1": 0.75662, "y2": 0.76417, "k": "res"}, {"y1": 0.73085, "y2": 0.7384, "k": "last"}, {"y1": 0.69972, "y2": 0.70727, "k": "sup"}]},
       "mark": {"type": "rect"},
       "encoding": {"x": {"datum": 112.48, "type": "quantitative"}, "x2": {"datum": 123.91}, "y": {"field": "y1", "type": "quantitative"}, "y2": {"field": "y2"}, "color": {"condition": {"test": "datum.k == 'sup'", "value": "#0000ff"}, "value": "#ff0000"}}},
      {"data": {"values": [{"p": 0.7604, "t": "0.76040"}, {"p": 0.73463, "t": "0.73500"}, {"p": 0.7035, "t": "0.70350"}]},
       "mark": {"type": "text", "fontWeight": "bold", "fontSize": 11, "color": "#ffffff", "align": "center", "baseline": "middle"},
       "encoding": {"x": {"datum": 118.85, "type": "quantitative"}, "y": {"field": "p", "type": "quantitative"}, "text": {"field": "t"}}},
      {"data": {"values": [
         {"x": -46.28, "p": 0.83052, "t": "FX:AUDUSD, W"},
         {"x": 16.55, "p": 0.83052, "t": "O:"},
         {"x": 31.89, "p": 0.83052, "t": "H:"},
         {"x": 46.21, "p": 0.83052, "t": "L:"},
         {"x": 60.99, "p": 0.83052, "t": "C:"}]},
       "mark": {"type": "text", "align": "left", "baseline": "middle", "fontSize": 12.5, "fontWeight": "bold", "color": "#222222"},
       "encoding": {"x": {"field": "x", "type": "quantitative"}, "y": {"field": "p", "type": "quantitative"}, "text": {"field": "t"}}},
      {"data": {"values": [
         {"x": -25.59, "p": 0.83052, "t": "0.73500", "part": "last"},
         {"x": -13.95, "p": 0.83052, "t": "▼", "part": "arrow"},
         {"x": -10.87, "p": 0.83052, "t": "−0.00069 (−0.09%)", "part": "last"},
         {"x": 19.77, "p": 0.83052, "t": "0.73736", "part": "ohlc"},
         {"x": 34.94, "p": 0.83052, "t": "0.74106", "part": "ohlc"},
         {"x": 49.26, "p": 0.83052, "t": "0.73304", "part": "ohlc"},
         {"x": 63.84, "p": 0.83052, "t": "0.73500", "part": "ohlc"}]},
       "mark": {"type": "text", "align": "left", "baseline": "middle", "fontSize": 12.5},
       "encoding": {"x": {"field": "x", "type": "quantitative"}, "y": {"field": "p", "type": "quantitative"}, "text": {"field": "t"}, "color": {"condition": [{"test": "datum.part == 'ohlc'", "value": "#cc0000"}, {"test": "datum.part == 'arrow'", "value": "#8b0000"}], "value": "#222222"}}}
    ]
  },
  {
    "width": 691, "height": 318,
    "layer": [
      {"data": {"name": "dy"},
       "mark": {"type": "bar", "size": 3, "opacity": 0},
       "encoding": {
         "x": {"field": "d", "type": "quantitative", "scale": {"domain": [-3.41, 164.8], "nice": false, "zero": false}, "axis": {"zindex": 1, "labelOverlap": false, "tickCount": 40, "values": [0, 23, 44, 66, 88, 109, 132, 154], "labelExpr": "['Mar','Apr','May','Jun','Jul','Aug','Sep','Oct'][indexof([0,23,44,66,88,109,132,154], datum.value)]", "title": null}},
         "y": {"field": "o", "type": "quantitative", "scale": {"domain": [0.70634, 0.78768], "nice": false, "zero": false}, "axis": {"zindex": 1, "labelOverlap": false, "tickCount": 40, "orient": "right", "values": [0.71, 0.72, 0.73, 0.75, 0.77, 0.78], "format": ".5f", "title": null}},
         "y2": {"field": "c"}}},
      {"data": {"values": [{"x1": -3.65, "x2": 176.89, "y1": 0.70071, "y2": 0.78801}]},
       "mark": {"type": "rect", "fill": "#ffffff", "stroke": "#5b5b5b", "strokeWidth": 1},
       "encoding": {"x": {"field": "x1", "type": "quantitative"}, "x2": {"field": "x2"}, "y": {"field": "y1", "type": "quantitative"}, "y2": {"field": "y2"}}},
      {"data": {"values": [{"x1": 41.8, "x2": 104.2, "y1": 0.7665, "y2": 0.7719}, {"x1": 43.7, "x2": 104.2, "y1": 0.7451, "y2": 0.7517}, {"x1": -3.41, "x2": 104.2, "y1": 0.7108, "y2": 0.714}]},
       "mark": {"type": "rect", "fill": "#fdedc2", "stroke": "#2b2616", "strokeWidth": 2},
       "encoding": {"x": {"field": "x1", "type": "quantitative"}, "x2": {"field": "x2"}, "y": {"field": "y1", "type": "quantitative"}, "y2": {"field": "y2"}}},
      {"data": {"values": [{"x": -1.46, "p": 0.78323, "t": "Australian Dollar/U.S. Dollar, D"}]},
       "mark": {"type": "text", "align": "left", "baseline": "middle", "fontWeight": "bold", "fontSize": 13, "color": "#676767"},
       "encoding": {"x": {"field": "x", "type": "quantitative"}, "y": {"field": "p", "type": "quantitative"}, "text": {"field": "t"}}},
      {"data": {"name": "dy"},
       "mark": {"type": "rule", "color": "#7a7a7a", "strokeWidth": 1},
       "encoding": {"x": {"field": "d", "type": "quantitative"}, "y": {"field": "l", "type": "quantitative"}, "y2": {"field": "h"}}},
      {"data": {"name": "dy"},
       "mark": {"type": "bar", "size": 3},
       "encoding": {"x": {"field": "d", "type": "quantitative"}, "y": {"field": "o", "type": "quantitative"}, "y2": {"field": "c"},
         "color": {"condition": {"test": "datum.c >= datum.o", "value": "#0000ff"}, "value": "#ff0000"}}},
      {"data": {"values": [{"x1": -3.41, "x2": 164.8, "p": 0.7604}, {"x1": -3.41, "x2": 164.8, "p": 0.738}]},
       "mark": {"type": "rule", "color": "#ff0000", "strokeWidth": 3},
       "encoding": {"x": {"field": "x1", "type": "quantitative"}, "x2": {"field": "x2"}, "y": {"field": "p", "type": "quantitative"}}},
      {"data": {"values": [{"x1": -3.41, "x2": 103.96, "p": 0.7226}]},
       "mark": {"type": "rule", "color": "#2b2bff", "strokeWidth": 2.5},
       "encoding": {"x": {"field": "x1", "type": "quantitative"}, "x2": {"field": "x2"}, "y": {"field": "p", "type": "quantitative"}}},
      {"data": {"name": "lblD"},
       "mark": {"type": "rect", "fill": "#e3eaf0", "stroke": "#5e7586", "strokeWidth": 1},
       "encoding": {"x": {"field": "x1", "type": "quantitative"}, "x2": {"field": "x2"}, "y": {"field": "y1", "type": "quantitative"}, "y2": {"field": "y2"}}},
      {"data": {"name": "lblD"},
       "mark": {"type": "text", "font": "DejaVu Sans", "fontSize": 10, "color": "#333333", "align": "center", "baseline": "middle"},
       "encoding": {"x": {"field": "tx", "type": "quantitative"}, "y": {"field": "ty", "type": "quantitative"}, "text": {"field": "t"}}},
      {"data": {"name": "coD"},
       "mark": {"type": "rect", "fill": "#ffffff", "stroke": "#ffff1a", "strokeWidth": 3, "cornerRadius": 9},
       "encoding": {"x": {"field": "x1", "type": "quantitative"}, "x2": {"field": "x2"}, "y": {"field": "y1", "type": "quantitative"}, "y2": {"field": "y2"}}},
      {"data": {"values": [
         {"ax": 128.47, "ay": 0.78, "bx": 124.65, "by": 0.77232},
         {"ax": 130.73, "ay": 0.77785, "bx": 124.65, "by": 0.77232},
         {"ax": 140.88, "ay": 0.7631, "bx": 141.92, "by": 0.76036},
         {"ax": 143.07, "ay": 0.7631, "bx": 141.92, "by": 0.76036},
         {"ax": 130.73, "ay": 0.75012, "bx": 125.87, "by": 0.74738},
         {"ax": 130.73, "ay": 0.74499, "bx": 125.87, "by": 0.74738},
         {"ax": 26.1, "ay": 0.73348, "bx": 27.74, "by": 0.73732},
         {"ax": 29.37, "ay": 0.73348, "bx": 27.74, "by": 0.73732},
         {"ax": 122.8, "ay": 0.72624, "bx": 117.76, "by": 0.72281},
         {"ax": 125.47, "ay": 0.7224, "bx": 117.76, "by": 0.72281},
         {"ax": 129.68, "ay": 0.716, "bx": 124.65, "by": 0.7141},
         {"ax": 129.68, "ay": 0.71216, "bx": 124.65, "by": 0.7141}]},
       "mark": {"type": "rule", "color": "#ffff1a", "strokeWidth": 3, "strokeCap": "round"},
       "encoding": {"x": {"field": "ax", "type": "quantitative"}, "x2": {"field": "bx"}, "y": {"field": "ay", "type": "quantitative"}, "y2": {"field": "by"}}},
      {"data": {"name": "coD"},
       "mark": {"type": "text", "font": "DejaVu Sans", "fontWeight": "bold", "fontSize": 12, "color": "#111111", "align": "center", "baseline": "middle", "lineBreak": "\n", "lineHeight": 13},
       "encoding": {"x": {"field": "tx", "type": "quantitative"}, "y": {"field": "ty", "type": "quantitative"}, "text": {"field": "t"}}},
      {"data": {"values": [{"y1": 0.75835, "y2": 0.76245}, {"y1": 0.73685, "y2": 0.74095}, {"y1": 0.73279, "y2": 0.73689}]},
       "mark": {"type": "rect", "color": "#ff0000"},
       "encoding": {"x": {"datum": 164.8, "type": "quantitative"}, "x2": {"datum": 176.89}, "y": {"field": "y1", "type": "quantitative"}, "y2": {"field": "y2"}}},
      {"data": {"values": [{"p": 0.7604, "t": "0.76040"}, {"p": 0.7389, "t": "0.73800"}, {"p": 0.73484, "t": "0.73500"}]},
       "mark": {"type": "text", "fontWeight": "bold", "fontSize": 11, "color": "#ffffff", "align": "center", "baseline": "middle"},
       "encoding": {"x": {"datum": 170.8, "type": "quantitative"}, "y": {"field": "p", "type": "quantitative"}, "text": {"field": "t"}}},
      {"data": {"values": [
         {"x": -3.24, "p": 0.79134, "t": "FX:AUDUSD, D"},
         {"x": 63.26, "p": 0.79134, "t": "O:"},
         {"x": 79.49, "p": 0.79134, "t": "H:"},
         {"x": 94.65, "p": 0.79134, "t": "L:"},
         {"x": 110.29, "p": 0.79134, "t": "C:"}]},
       "mark": {"type": "text", "align": "left", "baseline": "middle", "fontSize": 12.5, "fontWeight": "bold", "color": "#222222"},
       "encoding": {"x": {"field": "x", "type": "quantitative"}, "y": {"field": "p", "type": "quantitative"}, "text": {"field": "t"}}},
      {"data": {"values": [
         {"x": 18.66, "p": 0.79134, "t": "0.73500", "part": "last"},
         {"x": 30.97, "p": 0.79134, "t": "▼", "part": "arrow"},
         {"x": 34.23, "p": 0.79134, "t": "−0.00069 (−0.09%)", "part": "last"},
         {"x": 66.67, "p": 0.79134, "t": "0.73569", "part": "ohlc"},
         {"x": 82.73, "p": 0.79134, "t": "0.73570", "part": "ohlc"},
         {"x": 97.88, "p": 0.79134, "t": "0.73402", "part": "ohlc"},
         {"x": 113.31, "p": 0.79134, "t": "0.73500", "part": "ohlc"}]},
       "mark": {"type": "text", "align": "left", "baseline": "middle", "fontSize": 12.5},
       "encoding": {"x": {"field": "x", "type": "quantitative"}, "y": {"field": "p", "type": "quantitative"}, "text": {"field": "t"}, "color": {"condition": [{"test": "datum.part == 'ohlc'", "value": "#cc0000"}, {"test": "datum.part == 'arrow'", "value": "#8b0000"}], "value": "#222222"}}}
    ]
  }
  ],
  "spacing": 47,
  "bounds": "flush"
}
]
}
